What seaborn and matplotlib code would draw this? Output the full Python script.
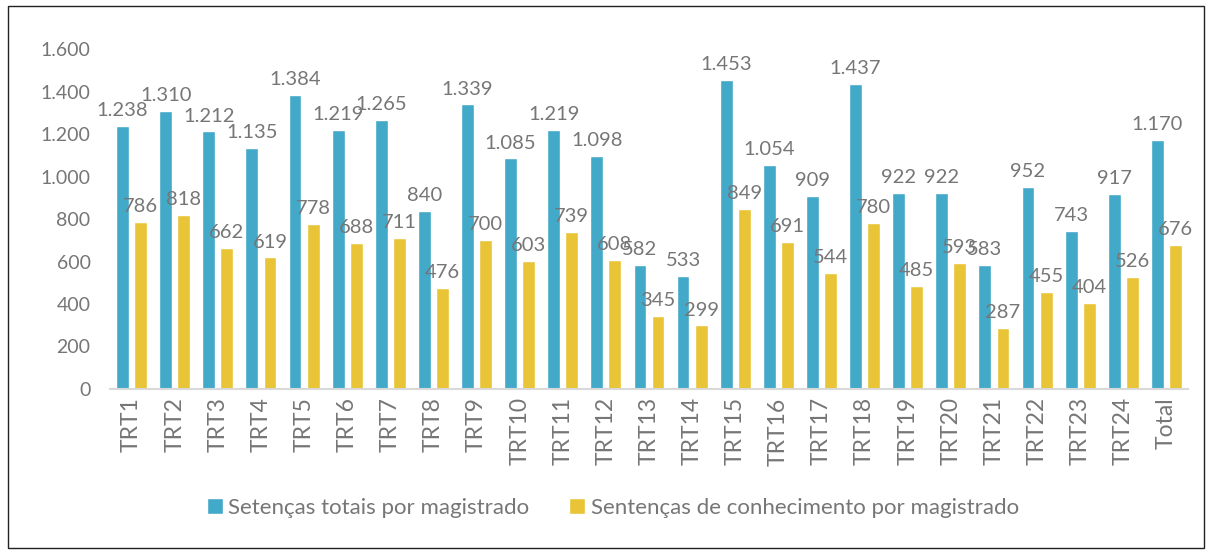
import matplotlib
matplotlib.use("Agg")
import matplotlib.pyplot as plt
import seaborn as sns
import pandas as pd
from matplotlib.patches import Rectangle

categories = ["TRT1", "TRT2", "TRT3", "TRT4", "TRT5", "TRT6", "TRT7", "TRT8",
              "TRT9", "TRT10", "TRT11", "TRT12", "TRT13", "TRT14", "TRT15", "TRT16",
              "TRT17", "TRT18", "TRT19", "TRT20", "TRT21", "TRT22", "TRT23", "TRT24",
              "Total"]
totais = [1238, 1310, 1212, 1135, 1384, 1219, 1265, 840, 1339, 1085, 1219, 1098,
          582, 533, 1453, 1054, 909, 1437, 922, 922, 583, 952, 743, 917, 1170]
conhecimento = [786, 818, 662, 619, 778, 688, 711, 476, 700, 603, 739, 608,
                345, 299, 849, 691, 544, 780, 485, 593, 287, 455, 404, 526, 676]
series = ["Setenças totais por magistrado", "Sentenças de conhecimento por magistrado"]
colors = ["#43A9C9", "#E8C436"]
yticks = [0, 200, 400, 600, 800, 1000, 1200, 1400, 1600]

df = pd.DataFrame({
    "cat": categories * 2,
    "valor": totais + conhecimento,
    "serie": [series[0]] * len(categories) + [series[1]] * len(categories),
})

def fmt(v):
    return f"{v:,}".replace(",", ".")

sns.set_theme(style="white")
plt.rcParams["font.family"] = ["Lato", "DejaVu Sans"]
gray = "#767676"

fig = plt.figure(figsize=(12.09, 5.52), dpi=100)
ax = fig.add_axes([0.091, 0.2953, 0.8916, 0.6159])

sns.barplot(data=df, x="cat", y="valor", hue="serie", palette=colors,
            width=0.84, gap=0.29, saturation=1, ax=ax, legend=True)

for cont in ax.containers:
    labels = [fmt(int(round(b.get_height()))) for b in cont]
    ax.bar_label(cont, labels=labels, padding=5, fontsize=14.5, color=gray,
                 clip_on=False)

ax.set_ylim(0, 1600)
ax.set_xlim(-0.5, len(categories) - 0.5)
ax.set_yticks(yticks)
ax.set_yticklabels([fmt(v) for v in yticks], fontsize=14, color=gray)
ax.tick_params(axis="x", rotation=90, labelsize=16.5, labelcolor=gray, pad=6, length=0)
ax.tick_params(axis="y", length=0, pad=14)
ax.set_xlabel("")
ax.set_ylabel("")
for s in ["top", "right", "left"]:
    ax.spines[s].set_visible(False)
ax.spines["bottom"].set_color("#D9D9D9")
ax.spines["bottom"].set_linewidth(1.5)

handles, lbls = ax.get_legend_handles_labels()
ax.get_legend().remove()
fig.legend(handles, lbls, loc="center", bbox_to_anchor=(0.507, 0.08), ncol=2,
           frameon=False, fontsize=16, labelcolor=gray, handlelength=0.7,
           handleheight=0.7, handletextpad=0.25, columnspacing=1.8)

fig.patches.append(Rectangle((0.007, 0.007), 0.989, 0.982, transform=fig.transFigure,
                             fill=False, edgecolor="#222222", linewidth=1.0))

fig.savefig("out.png", dpi=100)
